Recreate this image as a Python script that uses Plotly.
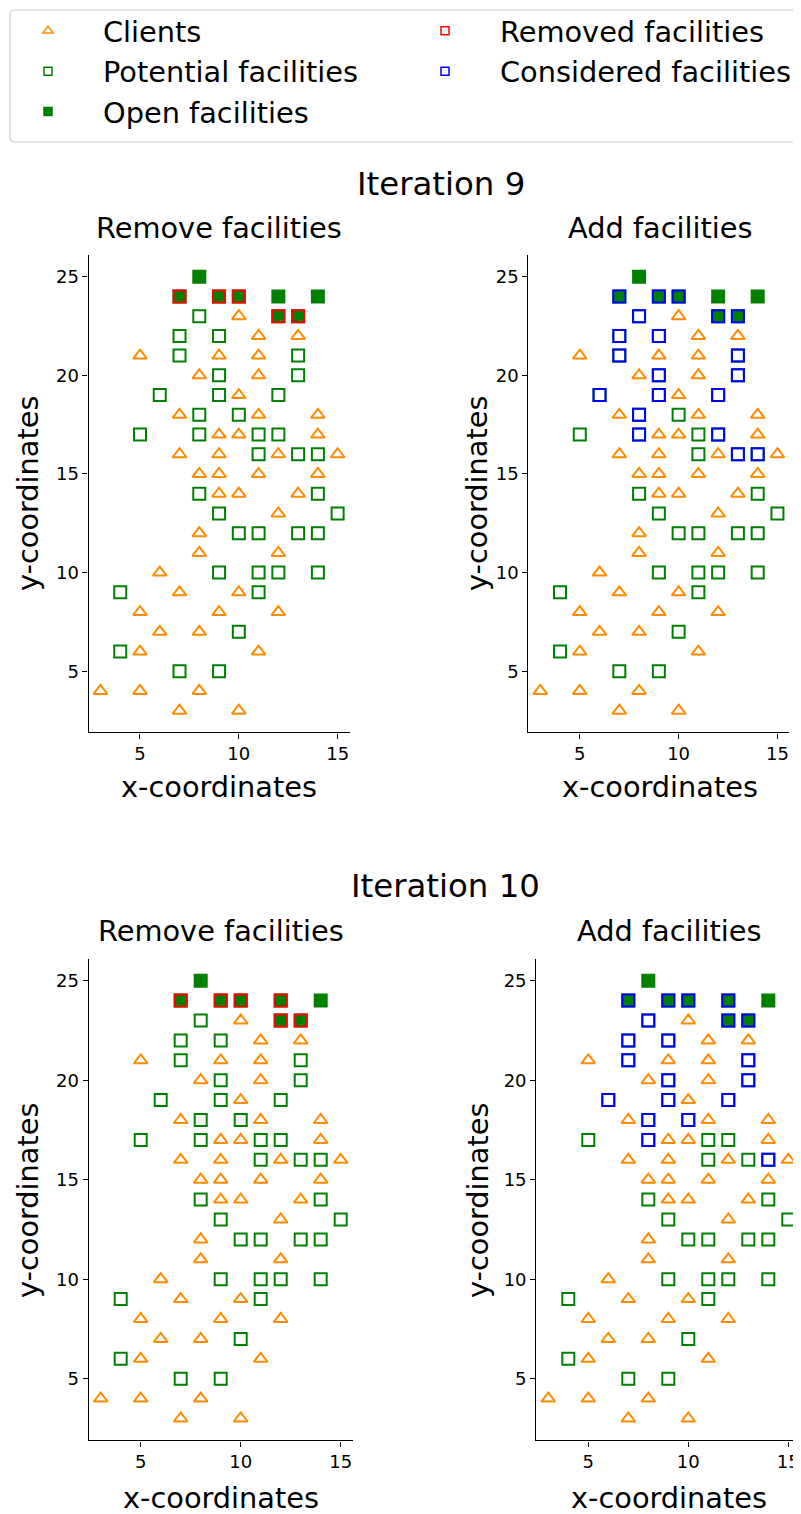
import plotly.graph_objects as go

# ---------------- data ----------------
clients_x = [10, 11, 13, 5, 9, 11, 8, 11, 10, 7, 11, 14, 9, 10, 14, 7, 9, 12, 15,
             8, 9, 11, 14, 9, 10, 13, 12, 8, 8, 12, 6, 7, 10, 5, 9, 12, 6, 8,
             5, 11, 3, 5, 8, 7, 10]
clients_y = [23, 22, 22, 21, 21, 21, 20, 20, 19, 18, 18, 18, 17, 17, 17, 16, 16, 16, 16,
             15, 15, 15, 15, 14, 14, 14, 13, 12, 11, 11, 10, 9, 9, 8, 8, 8, 7, 7,
             6, 6, 4, 4, 4, 3, 3]

potential_x = [8, 7, 9, 7, 13, 9, 13, 6, 9, 12, 8, 10, 5, 8, 11, 12, 11, 13, 14,
               8, 14, 9, 15, 10, 11, 13, 14, 9, 11, 12, 14, 4, 11, 10, 4, 7, 9]
potential_y = [23, 22, 22, 21, 21, 20, 20, 19, 19, 19, 18, 18, 17, 17, 17, 17, 16, 16, 16,
               14, 14, 13, 13, 12, 12, 12, 12, 10, 10, 10, 10, 9, 9, 7, 6, 5, 5]

open_x = [8, 7, 9, 10, 12, 14, 12, 13]
open_y = [25, 24, 24, 24, 24, 24, 23, 23]

removed9_x = [7, 9, 10, 12, 13]
removed9_y = [24, 24, 24, 23, 23]
considered9_x = [7, 9, 10, 12, 13, 8, 7, 9, 7, 13, 9, 13, 6, 9, 12, 8, 8, 12, 13, 14]
considered9_y = [24, 24, 24, 23, 23, 23, 22, 22, 21, 21, 20, 20, 19, 19, 19, 18, 17, 17, 16, 16]

removed10_x = [7, 9, 10, 12, 12, 13]
removed10_y = [24, 24, 24, 24, 23, 23]
considered10_x = [7, 9, 10, 12, 12, 13, 8, 7, 9, 7, 13, 9, 13, 6, 9, 12, 8, 10, 8, 14]
considered10_y = [24, 24, 24, 24, 23, 23, 23, 22, 22, 21, 21, 20, 20, 19, 19, 19, 18, 18, 17, 16]

x_ticks = [5, 10, 15]
y_ticks = [5, 10, 15, 20, 25]

# ---------------- style ----------------
OFF = 8                      # page body margin of the html page
W, H = 801 - OFF, 1514 - OFF
FONT = "DejaVu Sans"
ORANGE = "#ff8c00"
GREEN = "#008000"
RED = "#ff0000"
BLUE = "#0000ff"
CLEAR = "rgba(0,0,0,0)"


def px(x):
    return (x - OFF) / W


def py(y):
    return 1 - (y - OFF) / H


fig = go.Figure()


def add_panel(ax, overlay_x, overlay_y, overlay_color):
    xa, ya = "x" + ax, "y" + ax
    fig.add_trace(go.Scatter(x=clients_x, y=clients_y, mode="markers", xaxis=xa, yaxis=ya,
                             showlegend=False, hoverinfo="skip",
                             marker=dict(symbol="triangle-up", size=12, color=CLEAR,
                                         line=dict(color=ORANGE, width=2))))
    fig.add_trace(go.Scatter(x=potential_x, y=potential_y, mode="markers", xaxis=xa, yaxis=ya,
                             showlegend=False, hoverinfo="skip",
                             marker=dict(symbol="square", size=12, color=CLEAR,
                                         line=dict(color=GREEN, width=2))))
    fig.add_trace(go.Scatter(x=open_x, y=open_y, mode="markers", xaxis=xa, yaxis=ya,
                             showlegend=False, hoverinfo="skip",
                             marker=dict(symbol="square", size=12, color=GREEN,
                                         line=dict(color=GREEN, width=2))))
    fig.add_trace(go.Scatter(x=overlay_x, y=overlay_y, mode="markers", xaxis=xa, yaxis=ya,
                             showlegend=False, hoverinfo="skip",
                             marker=dict(symbol="square", size=12, color=CLEAR,
                                         line=dict(color=overlay_color, width=2))))


add_panel("", removed9_x, removed9_y, RED)
add_panel("2", considered9_x, considered9_y, BLUE)
add_panel("3", removed10_x, removed10_y, RED)
add_panel("4", considered10_x, considered10_y, BLUE)

# legend-only entries (two legend columns)
legend_items = [
    ("Clients", "triangle-up", ORANGE, CLEAR, 9, "legend"),
    ("Potential facilities", "square", GREEN, CLEAR, 8, "legend"),
    ("Open facilities", "square", GREEN, GREEN, 8, "legend"),
    ("Removed facilities", "square", RED, CLEAR, 8, "legend2"),
    ("Considered facilities", "square", BLUE, CLEAR, 8, "legend2"),
]
for name, sym, lc, fc, sz, lg in legend_items:
    fig.add_trace(go.Scatter(x=[None], y=[None], mode="markers", name=name, legend=lg,
                             marker=dict(symbol=sym, size=sz, color=fc,
                                         line=dict(color=lc, width=1.5))))

axis_common = dict(ticks="outside", ticklen=5, tickwidth=1.3, tickcolor="black",
                   showline=True, linecolor="black", linewidth=1.3, showgrid=False,
                   zeroline=False, tickfont=dict(family=FONT, size=18, color="black"))

domains = {
    "": ((88.6, 349.5), (255, 732.4)),
    "2": ((528.4, 789.3), (255, 732.4)),
    "3": ((88.7, 352.7), (958.8, 1440.4)),
    "4": ((536.3, 800.3), (958.8, 1440.4)),
}
layout_axes = {}
for k, ((x0, x1), (y0, y1)) in domains.items():
    layout_axes["xaxis" + k] = dict(domain=[px(x0), px(x1)], range=[2.4, 15.6],
                                    tickvals=x_ticks, anchor="y" + k, **axis_common)
    layout_axes["yaxis" + k] = dict(domain=[py(y1), py(y0)], range=[1.9, 26.1],
                                    tickvals=y_ticks, anchor="x" + k, **axis_common)

annotations = []


def txt(text, x, y, size, angle=0):
    annotations.append(dict(text=text, x=px(x), y=py(y), xref="paper", yref="paper",
                            showarrow=False, xanchor="center", yanchor="middle",
                            textangle=angle, font=dict(family=FONT, size=size, color="black")))


txt("Iteration 9", 441, 184, 32.4)
txt("Iteration 10", 445, 886, 32.4)
txt("Remove facilities", 219, 228, 28.8)
txt("Add facilities", 660, 228, 28.8)
txt("Remove facilities", 221, 931, 28.8)
txt("Add facilities", 669, 931, 28.8)
txt("x-coordinates", 219, 787, 28.8)
txt("x-coordinates", 660, 787, 28.8)
txt("x-coordinates", 221, 1498, 28.8)
txt("x-coordinates", 669, 1498, 28.8)
txt("y-coordinates", 28, 493, 28.8, -90)
txt("y-coordinates", 477, 493, 28.8, -90)
txt("y-coordinates", 28, 1200, 28.8, -90)
txt("y-coordinates", 478, 1200, 28.8, -90)

# rounded legend frame
bx0, by0, bx1, by1, r = 10, 10, 797, 142, 5
frame = (f"M {px(bx0 + r)},{py(by0)} L {px(bx1 - r)},{py(by0)} "
         f"Q {px(bx1)},{py(by0)} {px(bx1)},{py(by0 + r)} "
         f"L {px(bx1)},{py(by1 - r)} Q {px(bx1)},{py(by1)} {px(bx1 - r)},{py(by1)} "
         f"L {px(bx0 + r)},{py(by1)} Q {px(bx0)},{py(by1)} {px(bx0)},{py(by1 - r)} "
         f"L {px(bx0)},{py(by0 + r)} Q {px(bx0)},{py(by0)} {px(bx0 + r)},{py(by0)} Z")

legend_common = dict(orientation="v", xanchor="left", yanchor="top", itemwidth=100,
                     font=dict(family=FONT, size=28.8, color="black"),
                     borderwidth=0, bgcolor="rgba(0,0,0,0)", traceorder="normal")

fig.update_layout(
    width=W, height=H,
    margin=dict(l=0, r=0, t=0, b=0, autoexpand=False),
    paper_bgcolor="white", plot_bgcolor="white",
    font=dict(family=FONT, color="black"),
    showlegend=True,
    legend=dict(x=px(50 - 57), y=py(5.5), **legend_common),
    legend2=dict(x=px(447 - 57), y=py(5.5), **legend_common),
    shapes=[dict(type="path", path=frame, xref="paper", yref="paper",
                 line=dict(color="#cccccc", width=1.2), fillcolor="white", layer="below")],
    annotations=annotations,
    **layout_axes,
)

fig.write_html("out.html")
